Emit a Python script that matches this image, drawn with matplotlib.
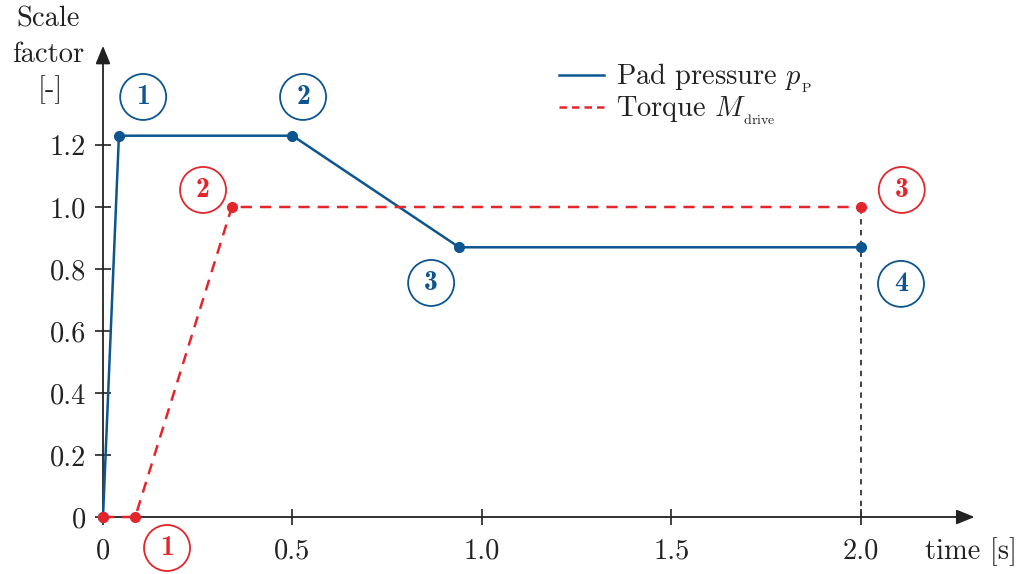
import matplotlib
matplotlib.use("Agg")
import matplotlib.pyplot as plt
from matplotlib.lines import Line2D

plt.rcParams['font.family'] = ['cmr10', 'DejaVu Serif']
plt.rcParams['mathtext.fontset'] = 'cm'
plt.rcParams['axes.unicode_minus'] = False

# Data
pad_t = [0.0, 0.042, 0.5, 0.94, 2.0]
pad_v = [0.0, 1.23, 1.23, 0.87, 0.87]
torque_t = [0.0, 0.085, 0.34, 2.0]
torque_v = [0.0, 0.0, 1.0, 1.0]
xticks = [0, 0.5, 1.0, 1.5, 2.0]
xticklabels = ["0", "0.5", "1.0", "1.5", "2.0"]
yticks = [0, 0.2, 0.4, 0.6, 0.8, 1.0, 1.2]
yticklabels = ["0", "0.2", "0.4", "0.6", "0.8", "1.0", "1.2"]
blue_labels = ["1", "2", "3", "4"]
blue_label_pos = [(0.106, 1.355), (0.528, 1.355), (0.866, 0.755), (2.106, 0.752)]
red_labels = ["1", "2", "3"]
red_label_pos = [(0.169, -0.100), (0.264, 1.055), (2.108, 1.055)]

BLUE = "#0d5591"
RED = "#e3262c"
AX = "#222222"
FS = 20.5

fig = plt.figure(figsize=(10.29, 5.74), dpi=100)
ax = fig.add_axes([103/1029, 57/574, 871.5/1029, 471.2/574])
ax.set_xlim(0, 2.30)
ax.set_ylim(0, 1.52)
for s in ax.spines.values():
    s.set_visible(False)
ax.patch.set_alpha(0)

# axes arrows
ax.annotate('', xy=(2.30, 0), xytext=(0, 0), xycoords='data',
            arrowprops=dict(arrowstyle='-|>,head_length=1.1,head_width=0.45',
                            color=AX, lw=1.3, shrinkA=0, shrinkB=0), annotation_clip=False)
ax.annotate('', xy=(0, 1.52), xytext=(0, 0), xycoords='data',
            arrowprops=dict(arrowstyle='-|>,head_length=1.1,head_width=0.45',
                            color=AX, lw=1.3, shrinkA=0, shrinkB=0), annotation_clip=False)

ax.set_xticks(xticks)
ax.set_xticklabels(xticklabels)
ax.set_yticks(yticks)
ax.set_yticklabels(yticklabels)
ax.tick_params(direction='inout', length=12, width=1.2, color=AX, labelsize=FS,
               labelcolor='#222222')
ax.tick_params(axis='x', pad=9)
ax.tick_params(axis='y', pad=6)

# dotted vertical line
ax.plot([2.0, 2.0], [0, 1.0], color='#333333', lw=1.3, ls=(0, (3, 3)), zorder=2, clip_on=False)

ax.plot(pad_t, pad_v, color=BLUE, lw=1.8, marker='o', ms=7, zorder=3, clip_on=False)
ax.plot(torque_t, torque_v, color=RED, lw=1.8, ls=(0, (4.5, 3.2)), zorder=4, clip_on=False)
ax.plot(torque_t, torque_v, color=RED, lw=0, marker='o', ms=7, zorder=5, clip_on=False)

for lab, (x, y) in zip(blue_labels, blue_label_pos):
    ax.text(x, y, lab, color=BLUE, fontsize=20, family='cmb10', ha='center', va='center',
            bbox=dict(boxstyle='circle,pad=0.36', fc='white', ec=BLUE, lw=1.3), clip_on=False)
for lab, (x, y) in zip(red_labels, red_label_pos):
    ax.text(x, y, lab, color=RED, fontsize=20, family='cmb10', ha='center', va='center',
            bbox=dict(boxstyle='circle,pad=0.36', fc='white', ec=RED, lw=1.3), clip_on=False)

handles = [Line2D([], [], color=BLUE, lw=1.8),
           Line2D([], [], color=RED, lw=1.8, ls=(0, (3, 2)))]
leg = fig.legend(handles, ['Pad pressure $p_{{}_{\\mathrm{P}}}$', 'Torque $M_{{}_{\\mathrm{drive}}}$'],
                 loc='upper left', bbox_to_anchor=(533/1029, 1 - 36/574), frameon=False,
                 fontsize=FS, handlelength=1.6, handletextpad=0.4, labelspacing=0.0)
for t in leg.get_texts():
    t.set_color('#222222')

fig.text(48/1029, 1 - 19/574, "Scale", ha='center', va='center', fontsize=FS, color='#222222')
fig.text(48/1029, 1 - 55/574, "factor", ha='center', va='center', fontsize=FS, color='#222222')
fig.text(50/1029, 1 - 90/574, "[-]", ha='center', va='center', fontsize=FS, color='#222222')
fig.text(971/1029, 1 - 552/574, "time [s]", ha='center', va='center', fontsize=FS, color='#222222')

fig.savefig("out.png", dpi=100)
